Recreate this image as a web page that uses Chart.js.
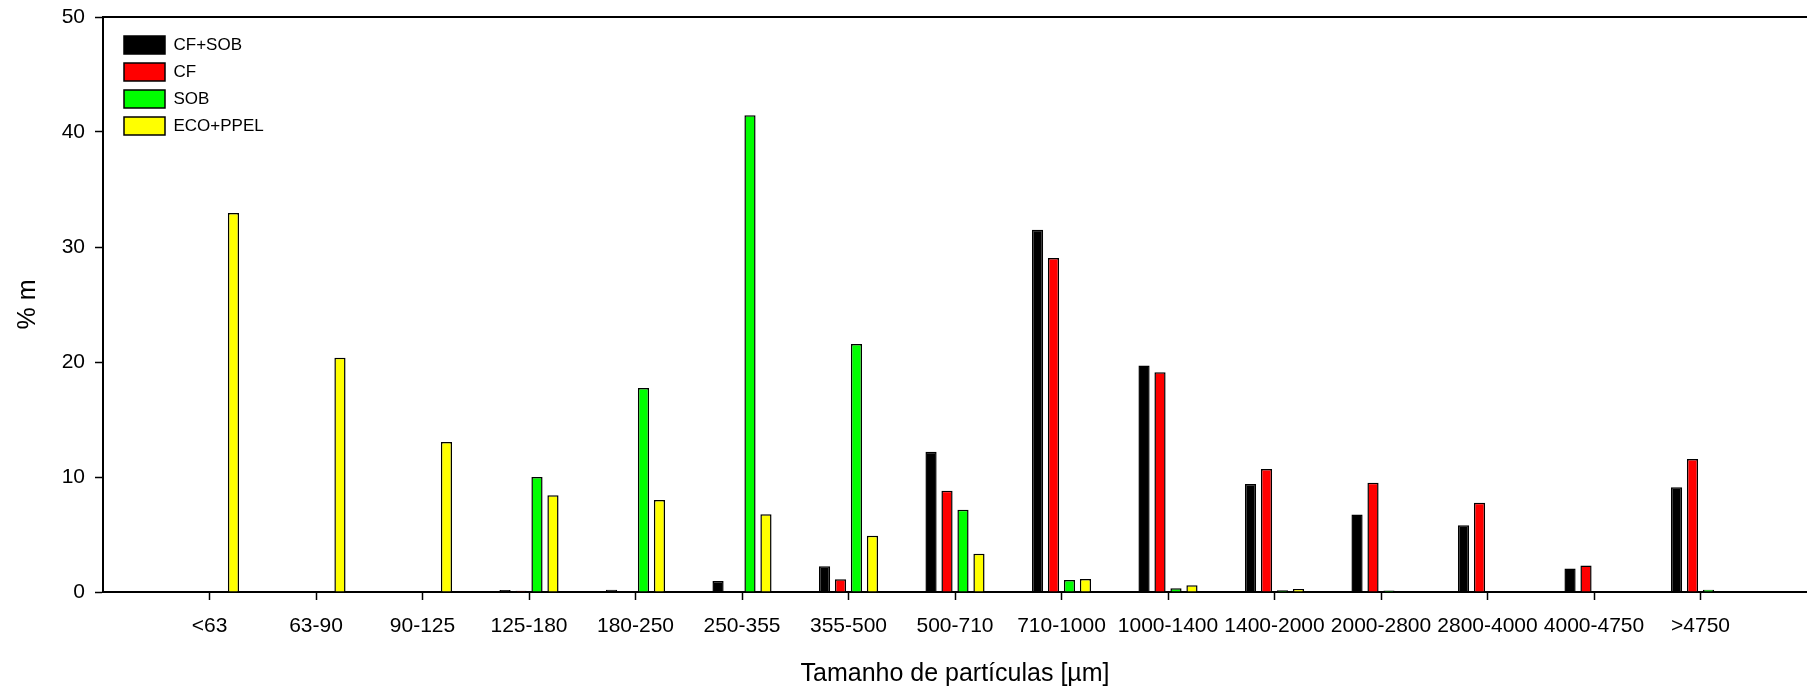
<!DOCTYPE html>
<html>
<head>
<meta charset="utf-8">
<script src="https://cdn.jsdelivr.net/npm/chart.js@4/dist/chart.umd.min.js"></script>
<style>
  html, body { margin: 0; padding: 0; background: #fff; }
  canvas { display: block; }
</style>
</head>
<body>
<canvas id="chart" width="1807" height="694"></canvas>
<script>
// Particle size classes (µm)
const categories = ['<63', '63-90', '90-125', '125-180', '180-250', '250-355', '355-500',
  '500-710', '710-1000', '1000-1400', '1400-2000', '2000-2800', '2800-4000', '4000-4750', '>4750'];

// Mass fraction per class (% m); null = no material in that class
const cfSob   = [null, null, null, 0.17, 0.2, 0.95, 2.23, 12.2, 31.5, 19.7, 9.4, 6.75, 5.8, 2.05, 9.1];
const cf      = [null, null, null, 0.1, null, null, 1.1, 8.8, 29.05, 19.1, 10.7, 9.5, 7.77, 2.3, 11.56];
const sob     = [null, null, null, 10.0, 17.75, 41.46, 21.56, 7.15, 1.04, 0.32, 0.15, 0.12, null, null, 0.2];
const ecoPpel = [32.96, 20.36, 13.05, 8.41, 8.01, 6.77, 4.89, 3.33, 1.13, 0.58, 0.26, null, null, null, null];

const yTicks = [0, 10, 20, 30, 40, 50];

// One empty slot on each side of the classes keeps the axis ends clear of the bars
const labels = [''].concat(categories, ['']);
const pad = arr => [null].concat(arr, [null]);

const FONT = "'Liberation Sans', Arial, Helvetica, sans-serif";

const series = [
  { label: 'CF+SOB',   data: cfSob,   color: '#000000' },
  { label: 'CF',       data: cf,      color: '#ff0000' },
  { label: 'SOB',      data: sob,     color: '#00ff00' },
  { label: 'ECO+PPEL', data: ecoPpel, color: '#ffff00' }
];

// Places the chart-area legend in the upper-left corner
const legendOffset = {
  id: 'legendOffset',
  afterLayout(chart) {
    const lg = chart.legend;
    if (!lg) return;
    const area = chart.chartArea;
    lg.left = area.left + 12;
    lg.top = area.top + 10;
    lg.bottom = area.bottom;
  }
};

const lastIndex = labels.length - 1;
const edgeTick = ctx => (ctx.index === 0 || ctx.index === lastIndex) ? 'rgba(0,0,0,0)' : '#000';

new Chart(document.getElementById('chart'), {
  type: 'bar',
  data: {
    labels: labels,
    datasets: series.map(s => ({
      label: s.label,
      data: pad(s.data),
      backgroundColor: s.color,
      borderColor: '#000000',
      borderWidth: 1.5,
      borderSkipped: 'bottom',
      barPercentage: 0.7,
      categoryPercentage: 0.6
    }))
  },
  plugins: [legendOffset],
  options: {
    responsive: false,
    animation: false,
    devicePixelRatio: 1,
    layout: { padding: { top: 17, left: 0, right: 0, bottom: 0 } },
    plugins: {
      legend: {
        position: 'chartArea',
        align: 'start',
        labels: {
          font: { family: FONT, size: 17 },
          color: '#000',
          boxWidth: 41,
          boxHeight: 18,
          padding: 9
        }
      },
      tooltip: { enabled: false }
    },
    scales: {
      x: {
        type: 'category',
        position: 'bottom',
        offset: false,
        grid: {
          offset: false,
          drawOnChartArea: false,
          drawTicks: true,
          tickLength: 8,
          tickWidth: 1.5,
          tickColor: edgeTick
        },
        border: { display: true, color: '#000', width: 2 },
        ticks: {
          autoSkip: false,
          maxRotation: 0,
          minRotation: 0,
          padding: 14,
          color: '#000',
          font: { family: FONT, size: 21 }
        },
        title: {
          display: true,
          text: 'Tamanho de partículas [µm]',
          color: '#000',
          font: { family: FONT, size: 25 },
          padding: { top: 0, bottom: 5 }
        },
        afterFit(scale) {
          scale.height = 102;
          scale.paddingLeft = 0;
          scale.paddingRight = 0;
        }
      },
      x2: {
        type: 'category',
        position: 'top',
        offset: false,
        grid: { offset: false, drawOnChartArea: false, drawTicks: false },
        border: { display: true, color: '#000', width: 2 },
        ticks: { display: false },
        afterFit(scale) {
          scale.height = 0;
          scale.paddingLeft = 0;
          scale.paddingRight = 0;
        }
      },
      y: {
        min: 0,
        max: 50,
        afterBuildTicks(scale) { scale.ticks = yTicks.map(v => ({ value: v })); },
        grid: {
          drawOnChartArea: false,
          drawTicks: true,
          tickLength: 8,
          tickWidth: 1.5,
          tickColor: '#000'
        },
        border: { display: true, color: '#000', width: 2 },
        ticks: {
          padding: 10,
          color: '#000',
          font: { family: FONT, size: 21 }
        },
        title: {
          display: true,
          text: '% m',
          color: '#000',
          font: { family: FONT, size: 25 },
          padding: { top: 13, bottom: 0 }
        },
        afterFit(scale) {
          scale.width = 103;
          scale.paddingTop = 0;
          scale.paddingBottom = 0;
        }
      }
    }
  }
});
</script>
</body>
</html>
